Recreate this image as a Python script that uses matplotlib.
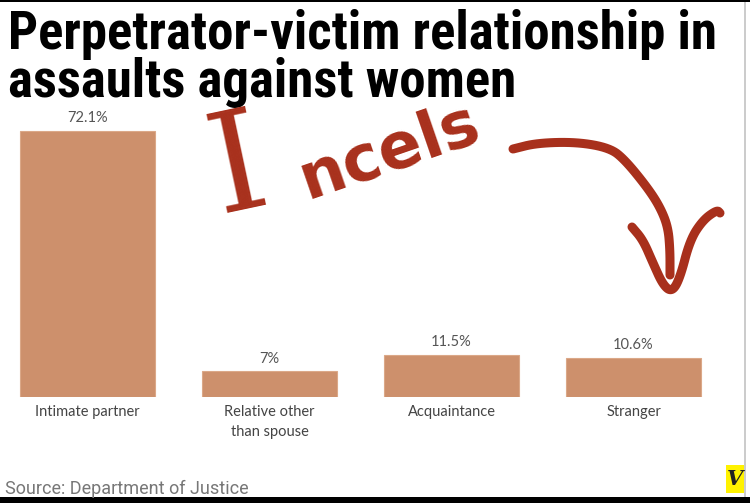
import matplotlib
matplotlib.use("Agg")
import matplotlib.pyplot as plt
from matplotlib import font_manager
from matplotlib.path import Path
from matplotlib.patches import PathPatch, Rectangle

categories = ["Intimate partner", "Relative other\nthan spouse", "Acquaintance", "Stranger"]
values = [72.1, 7.0, 11.5, 10.6]
value_labels = ["72.1%", "7%", "11.5%", "10.6%"]
title_lines = ["Perpetrator-victim relationship in", "assaults against women"]
source = "Source: Department of Justice"
note = "Incels"

W, H = 750, 503
fig = plt.figure(figsize=(W / 100, H / 100), dpi=100)
fig.patch.set_facecolor("white")

def fx(x):
    return x / W

def fy(y):
    return 1 - y / H

avail = {f.name for f in font_manager.fontManager.ttflist}
def pick(*names):
    for n in names:
        if n in avail:
            return n
    return "DejaVu Sans"

title_font = pick("Liberation Sans Narrow", "Roboto Condensed", "Roboto")
label_font = pick("Lato", "Open Sans", "DejaVu Sans")
src_font = pick("Liberation Sans Narrow", "Roboto")

# axes: baseline at y=397 px, 3.689 px per percent, bar pitch 182 px
ax = fig.add_axes([0, fy(397), fx(742), (397 - 110) / H])
ax.set_xlim((0 - 87.5) / 182, (742 - 87.5) / 182)
ax.set_ylim(0, (397 - 110) / 3.689)
for s in ax.spines.values():
    s.set_visible(False)
ax.set_yticks([])

xs = list(range(len(categories)))
bars = ax.bar(xs, values, width=135 / 182, color="#cd906c", edgecolor="#dba888", linewidth=0.8)
for x, v, lab in zip(xs, values, value_labels):
    ax.annotate(lab, (x, v), xytext=(0, 4), textcoords="offset points",
                ha="center", va="bottom", fontsize=10.5, color="#555555", family=label_font)

ax.set_xticks(xs)
ax.set_xticklabels(categories, fontsize=10.5, color="#444444", family=label_font)
ax.tick_params(axis="x", length=0, pad=6)
for t in ax.get_xticklabels():
    t.set_linespacing(1.5)

# title
t1 = fig.text(fx(8), fy(49), title_lines[0], fontsize=32, fontweight="bold",
              family=title_font, color="black", va="baseline", ha="left")
t2 = fig.text(fx(8), fy(97), title_lines[1], fontsize=32, fontweight="bold",
              family=title_font, color="black", va="baseline", ha="left")
fig.canvas.draw()
r = fig.canvas.get_renderer()
wpx = t1.get_window_extent(r).width
scale = 710 / wpx
t1.set_fontsize(32 * scale)
t2.set_fontsize(32 * scale)

# source
fig.text(fx(5), fy(494), source, fontsize=13, color="#777777", family=src_font,
         va="baseline", ha="left")

# Vox logo
fig.patches.append(Rectangle((fx(726), fy(493)), fx(19), 28 / H, transform=fig.transFigure,
                             facecolor="#fff200", edgecolor="none"))
fig.text(fx(735.5), fy(479), "V", fontsize=15, fontweight="bold", fontstyle="italic",
         family="DejaVu Serif", color="#222222", ha="center", va="center")

# borders
fig.patches.append(Rectangle((0, fy(2)), 1, 2 / H, transform=fig.transFigure,
                             facecolor="black", edgecolor="none"))
fig.patches.append(Rectangle((0, 0), 1, 6 / H, transform=fig.transFigure,
                             facecolor="black", edgecolor="none"))
fig.patches.append(Rectangle((fx(744), fy(497)), fx(2), 495 / H, transform=fig.transFigure,
                             facecolor="#cccccc", edgecolor="none"))

# hand-drawn annotation
red = "#a8301c"
fig.text(fx(238), fy(170), note[0], fontsize=100, family="DejaVu Serif", color=red,
         rotation=12, ha="center", va="center", rotation_mode="anchor")
fig.text(fx(390), fy(152), note[1:], fontsize=46, fontweight="bold", family="DejaVu Sans",
         color=red, rotation=19, ha="center", va="center", rotation_mode="anchor")


def smooth(pts, n=3):
    for _ in range(n):
        out = [pts[0]]
        for (x0, y0), (x1, y1) in zip(pts[:-1], pts[1:]):
            out.append((0.75 * x0 + 0.25 * x1, 0.75 * y0 + 0.25 * y1))
            out.append((0.25 * x0 + 0.75 * x1, 0.25 * y0 + 0.75 * y1))
        out.append(pts[-1])
        pts = out
    return pts


curve = [(513, 149), (537, 143), (577, 142), (610, 148), (625, 160), (647, 187),
         (660, 207), (668, 227), (670, 250), (670, 275)]
head = [(632, 227), (643, 240), (653, 263), (663, 285), (672, 292), (680, 278),
        (690, 240), (703, 220), (717, 210), (720, 213)]
for pts in (curve, head):
    verts = [(fx(x), fy(y)) for x, y in smooth(pts)]
    p = Path(verts)
    fig.patches.append(PathPatch(p, transform=fig.transFigure, facecolor="none",
                                 edgecolor=red, linewidth=6.5, capstyle="round",
                                 joinstyle="round"))

fig.savefig("out.png", dpi=100)
